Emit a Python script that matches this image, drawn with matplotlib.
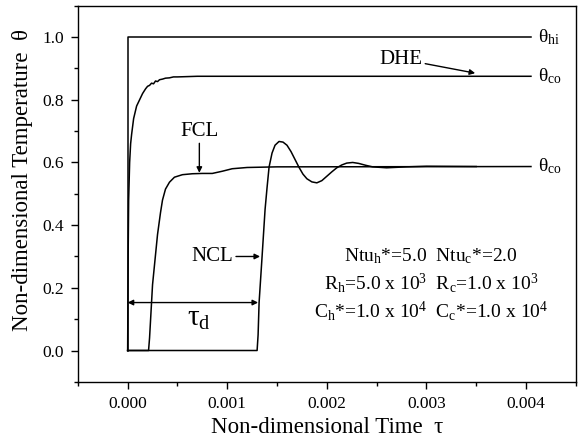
import matplotlib
matplotlib.use('Agg')
import matplotlib.pyplot as plt
from matplotlib.ticker import MultipleLocator

plt.rcParams['font.family'] = ['Liberation Serif', 'DejaVu Serif']
plt.rcParams['mathtext.fontset'] = 'custom'
plt.rcParams['mathtext.rm'] = 'Liberation Serif'
plt.rcParams['mathtext.it'] = 'Liberation Serif:italic'

#%% data

# hot inlet step
tau_hi = [0, 0, 0.00405]
theta_hi = [0, 1.0, 1.0]

# DHE cold outlet
tau_dhe = [0, 0.000005, 0.00001, 0.00002, 0.00003, 0.00004, 0.00006, 0.00009,
           0.00012, 0.00015, 0.00018, 0.0002, 0.00022, 0.00024, 0.00026, 0.00028,
           0.0003, 0.00032, 0.00035, 0.00038, 0.00042, 0.00046, 0.0005, 0.0006,
           0.0007, 0.00405]
theta_dhe = [0, 0.30, 0.48, 0.60, 0.66, 0.69, 0.74, 0.78,
             0.80, 0.82, 0.835, 0.843, 0.846, 0.853, 0.851, 0.860, 0.858,
             0.864, 0.866, 0.869, 0.870, 0.873, 0.873, 0.874, 0.875, 0.875]

# FCL cold outlet
tau_fcl = [0, 0.00021, 0.00022, 0.00025, 0.0003, 0.00033, 0.00035, 0.00038,
           0.00042, 0.00047, 0.00055, 0.00065, 0.00075, 0.00085, 0.00095,
           0.00105, 0.0012, 0.0015, 0.00405]
theta_fcl = [0, 0, 0.04, 0.21, 0.37, 0.44, 0.48, 0.515,
             0.537, 0.553, 0.561, 0.564, 0.565, 0.565, 0.572,
             0.580, 0.584, 0.586, 0.587]

# NCL cold outlet
tau_ncl = [0, 0.0013, 0.00131, 0.00132, 0.00135, 0.00138, 0.0014, 0.00142,
           0.00145, 0.00148, 0.00152, 0.00156, 0.0016, 0.00164, 0.00168,
           0.00172, 0.00176, 0.0018, 0.00185, 0.0019, 0.00195, 0.002, 0.00205,
           0.0021, 0.00215, 0.0022, 0.00226, 0.00232, 0.00239, 0.00246,
           0.0026, 0.0028, 0.003, 0.0035]
theta_ncl = [0, 0, 0.05, 0.153, 0.30, 0.45, 0.52, 0.585,
             0.63, 0.655, 0.667, 0.665, 0.655, 0.635, 0.61,
             0.585, 0.563, 0.548, 0.538, 0.535, 0.542, 0.556, 0.57,
             0.583, 0.592, 0.598, 0.600, 0.597, 0.591, 0.586,
             0.583, 0.586, 0.588, 0.587]

tau_d_start = 0.0
tau_d_end = 0.00131

#%% plot
fig = plt.figure(figsize=(5.81, 4.44), dpi=100)
ax = fig.add_axes([0.134, 0.14, 0.857, 0.847])

lw = 1.1
ax.plot(tau_hi, theta_hi, color='black', lw=lw)
ax.plot(tau_dhe, theta_dhe, color='black', lw=lw)
ax.plot(tau_fcl, theta_fcl, color='black', lw=lw)
ax.plot(tau_ncl, theta_ncl, color='black', lw=lw)

ax.set_xlim(-0.0005, 0.0045)
ax.set_ylim(-0.1, 1.1)
ax.xaxis.set_major_locator(MultipleLocator(0.001))
ax.xaxis.set_minor_locator(MultipleLocator(0.0005))
ax.yaxis.set_major_locator(MultipleLocator(0.2))
ax.yaxis.set_minor_locator(MultipleLocator(0.1))
ax.xaxis.set_major_formatter(plt.FormatStrFormatter('%.3f'))
ax.yaxis.set_major_formatter(plt.FormatStrFormatter('%.1f'))
ax.tick_params(which='major', direction='out', length=5, width=1,
               labelsize=12.5, pad=5)
ax.tick_params(which='minor', direction='out', length=3, width=1)
ax.tick_params(top=False, right=False, which='both')
for s in ax.spines.values():
    s.set_linewidth(1.0)

ax.set_xlabel('Non-dimensional Time  τ', fontsize=16.5, labelpad=4)
ax.set_ylabel('Non-dimensional Temperature  θ', fontsize=16.5)
ax.yaxis.set_label_coords(-0.09, 0.537)

# end labels
ax.text(0.00412, 1.0, 'θ$_{\\mathrm{hi}}$', fontsize=14, va='center', ha='left')
ax.text(0.00412, 0.875, 'θ$_{\\mathrm{co}}$', fontsize=14, va='center', ha='left')
ax.text(0.00412, 0.587, 'θ$_{\\mathrm{co}}$', fontsize=14, va='center', ha='left')

arrow = dict(arrowstyle='-|>', color='black', lw=1.0, mutation_scale=8,
             shrinkA=0, shrinkB=0)
ax.annotate('DHE', xy=(0.00349, 0.885), xytext=(0.00296, 0.93),
            fontsize=15, ha='right', va='center', arrowprops=arrow)
ax.annotate('FCL', xy=(0.00072, 0.567), xytext=(0.00072, 0.67),
            fontsize=15, ha='center', va='bottom', arrowprops=arrow)
ax.annotate('NCL', xy=(0.00133, 0.3), xytext=(0.00106, 0.3),
            fontsize=15, ha='right', va='center', arrowprops=arrow)

# delay time arrow
ax.annotate('', xy=(tau_d_end, 0.153), xytext=(tau_d_start, 0.153),
            arrowprops=dict(arrowstyle='<|-|>', color='black', lw=1.0,
                            mutation_scale=8, shrinkA=0, shrinkB=0))
ax.text(0.00072, 0.10, 'τ$_{\\mathrm{d}}$', fontsize=21, ha='center', va='center')

params = ('Ntu$_{\\mathrm{h}}$*=5.0  Ntu$_{\\mathrm{c}}$*=2.0\n'
          'R$_{\\mathrm{h}}$=5.0 x 10$^{3}$  R$_{\\mathrm{c}}$=1.0 x 10$^{3}$\n'
          'C$_{\\mathrm{h}}$*=1.0 x 10$^{4}$  C$_{\\mathrm{c}}$*=1.0 x 10$^{4}$')
ax.text(0.00305, 0.21, params, fontsize=14, ha='center', va='center',
        linespacing=1.25)

plt.savefig('out.png', dpi=100)
